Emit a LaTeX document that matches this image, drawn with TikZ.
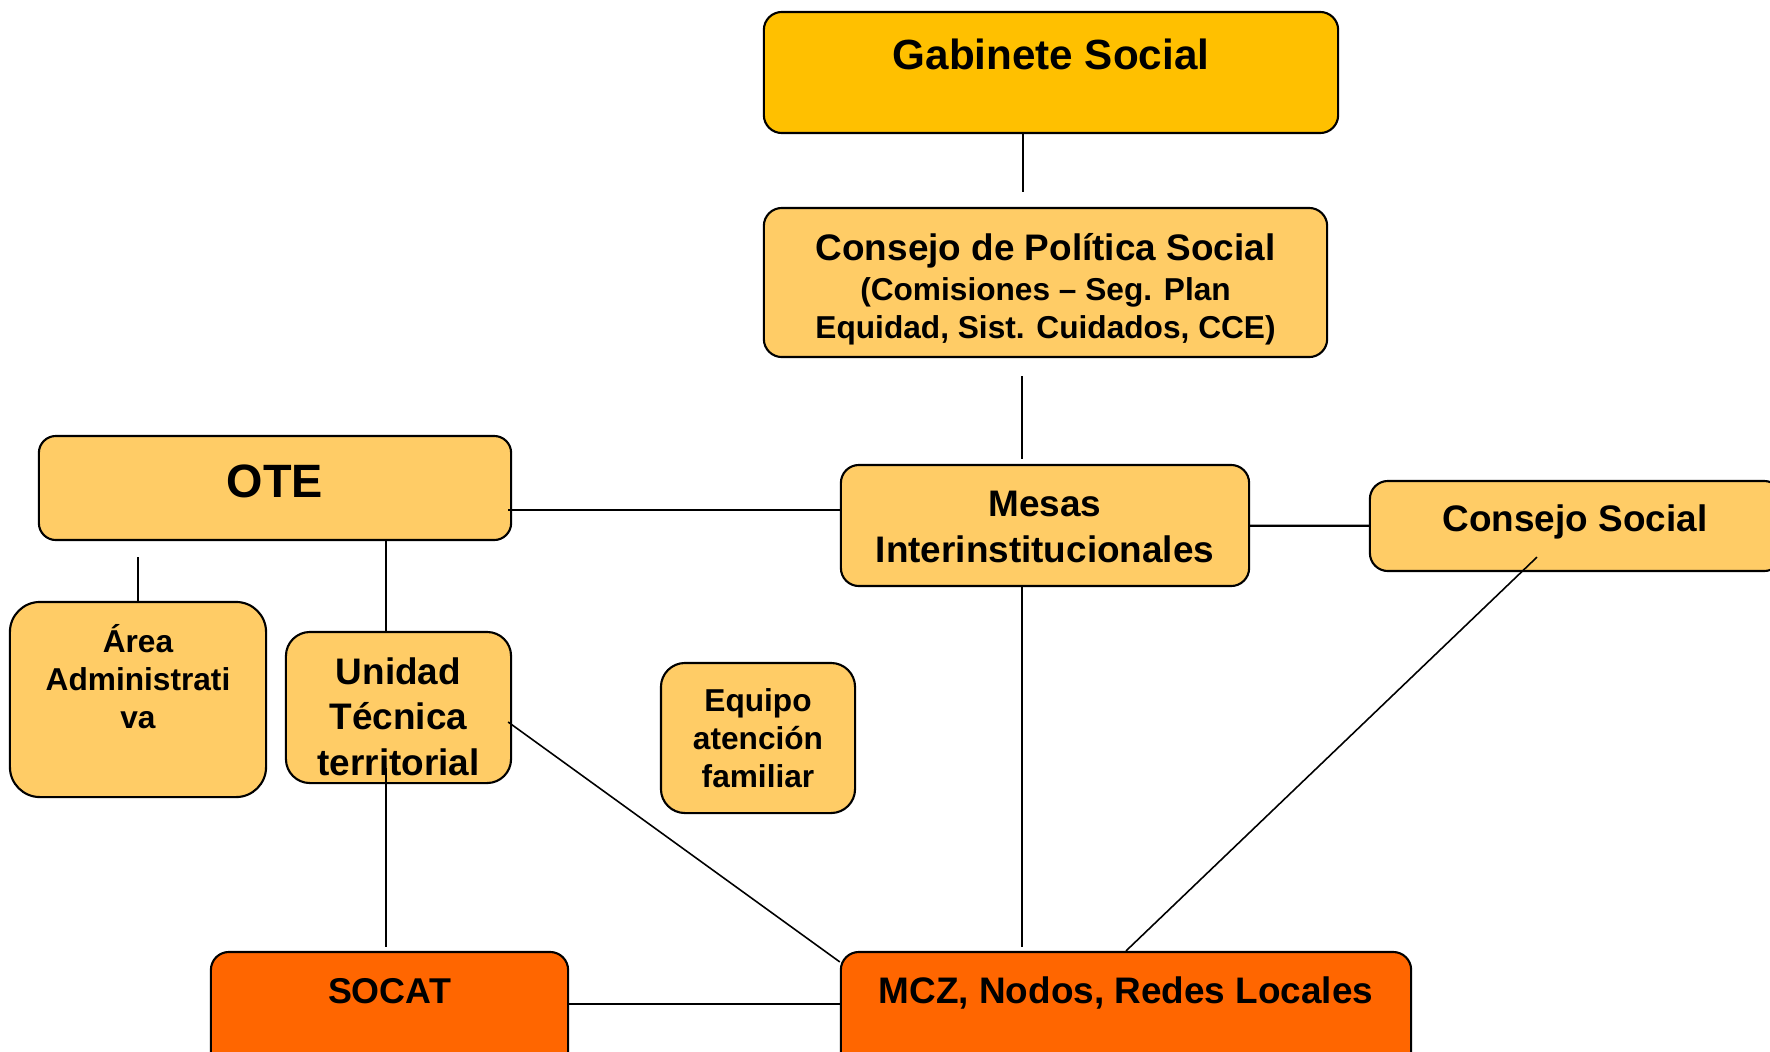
\documentclass[tikz,border=0pt]{standalone}
\usepackage{fontspec}
\setmainfont{Liberation Sans}
\usetikzlibrary{calc}
\definecolor{gold}{HTML}{FFC000}
\definecolor{sand}{HTML}{FFCC66}
\definecolor{rust}{HTML}{FF6600}

\begin{document}
\begin{tikzpicture}[x=0.01cm,y=-0.01cm,
    box/.style={draw=black,line width=0.6pt,rounded corners=0.18cm,inner sep=0pt,fill=sand},
    txt/.style={anchor=base,inner sep=0pt,align=center,font=\bfseries\fontsize{10.5}{12.9}\selectfont},
    small/.style={font=\bfseries\fontsize{9}{10.8}\selectfont},
    link/.style={draw=black,line width=0.45pt},
    heavylink/.style={draw=black,line width=0.65pt}]
                \useasboundingbox (0,0) rectangle (1770,1051);

                % boxes, texts sit on the baseline of their last line
                \node[box,fill=gold,minimum width=5.74cm,minimum height=1.21cm] (gab) at (1051,72.5) {};
                \node[txt,font=\bfseries\fontsize{12}{14}\selectfont] (gabtxt) at (1051,69) {Gabinete Social};
                \node[box,minimum width=5.63cm,minimum height=1.49cm] (cps) at (1045.5,282.5) {};
                \node[txt] (cpstxt) at (1045.5,260) {Consejo de Política Social};
                \node[txt,small] (cpssub) at (1045.5,338) {(Comisiones – Seg. Plan\\Equidad, Sist. Cuidados, CCE)};
                \node[box,minimum width=4.08cm,minimum height=1.21cm] (mesas) at (1045,525.5) {};
                \node[txt] (mesastxt) at (1045,562) {Mesas\\Interinstitucionales};
                \node[box,minimum width=4.12cm,minimum height=0.9cm] (cs) at (1576,526) {};
                \node[txt] (cstxt) at (1575,531) {Consejo Social};
                \node[box,rounded corners=0.17cm,minimum width=4.72cm,minimum height=1.04cm] (ote) at (275,488) {};
                \node[txt,font=\bfseries\fontsize{13.3}{16}\selectfont] (otetxt) at (275,497) {OTE};
                \node[box,rounded corners=0.3cm,minimum width=2.56cm,minimum height=1.95cm] (area) at (138,699.5) {};
                \node[txt,small] (areatxt) at (138,728) {Área\\Administrati\\va};
                \node[box,rounded corners=0.24cm,minimum width=2.25cm,minimum height=1.51cm] (unidad) at (398.5,707.5) {};
                \node[txt] (unidadtxt) at (398.5,775) {Unidad\\Técnica\\territorial};
                \node[box,rounded corners=0.24cm,minimum width=1.94cm,minimum height=1.5cm] (equipo) at (758,738) {};
                \node[txt,small] (equipotxt) at (758,787) {Equipo\\atención\\familiar};
                \node[box,fill=rust,minimum width=3.57cm,minimum height=1.28cm] (socat) at (389.5,1016) {};
                \node[txt,font=\bfseries\fontsize{10.2}{12}\selectfont] (socattxt) at (389.5,1003) {SOCAT};
                \node[box,fill=rust,minimum width=5.7cm,minimum height=1.28cm] (mcz) at (1126,1016) {};
                \node[txt] (mcztxt) at (1126,1003) {MCZ, Nodos, Redes Locales};

                \coordinate (utop) at ($(unidad.north)+(-12.5,0)$);
                \coordinate (otemid) at ($(ote.east)+(-4,22)$);

                \path [link] ($(gab.south)+(-28,0)$) edge ($(cps.north)+(-22.5,-15)$);
                \path [link] ($(cps.south)+(-23.5,18)$) edge ($(mesas.north)+(-23,-5)$);
                \path [heavylink] (otemid) edge (otemid -| mesas.west);
                \path [heavylink] (mesas) edge (cs);
                \path [link] ($(ote.south -| area.north)+(0,16)$) edge (area.north);
                \path [link] (utop |- ote.south) edge (utop);
                \path [link] ($(utop |- unidad.south)+(0,-16)$) edge ($(utop |- socat.north)+(0,-4)$);
                \path [link] ($(unidad.east)+(-4,14.5)$) edge ($(mcz.north west)+(0,11)$);
                \path [link] ($(mesas.south)+(-23,0)$) edge ($(mesas.south |- mcz.north)+(-23,-4)$);
                \path [link] ($(cs.south)+(-39,-15)$) edge (mcz.north);
                \path [heavylink] ($(socat.east)+(0,-12)$) edge ($(mcz.west)+(0,-12)$);
            \end{tikzpicture}
\end{document}
